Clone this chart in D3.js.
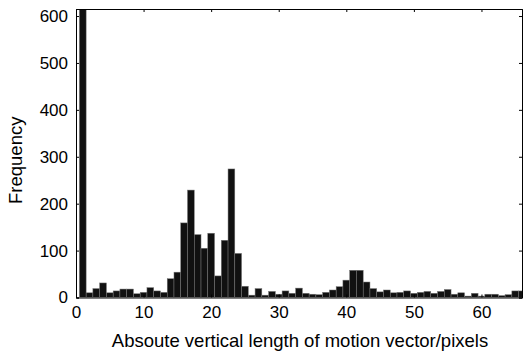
<!DOCTYPE html>
<html>
<head>
<meta charset="utf-8">
<script src="https://cdn.jsdelivr.net/npm/d3@7"></script>
<style>
  body { margin: 0; background: #fff; }
  text { font-family: "Liberation Sans", Arial, sans-serif; }
</style>
</head>
<body>
<svg id="chart" width="523" height="354"></svg>
<script>
// bin centers (pixels) and their counts
const bins = d3.range(0, 67);
const counts = [
  0, 1800, 10, 19, 31, 10, 14, 18, 18, 8,
  11, 21, 14, 11, 40, 54, 159, 229, 134, 105,
  137, 46, 122, 274, 94, 24, 5, 19, 5, 13,
  7, 14, 9, 20, 9, 7, 6, 11, 16, 23,
  37, 58, 58, 33, 19, 12, 16, 10, 11, 14,
  9, 11, 13, 9, 13, 17, 7, 10, 3, 9,
  3, 7, 7, 4, 6, 14, 14
];
const xTicks = [0, 10, 20, 30, 40, 50, 60];
const yTicks = [0, 100, 200, 300, 400, 500, 600];
const xLabel = "Absoute vertical length of motion vector/pixels";
const yLabel = "Frequency";

const margin = { top: 9, right: 1, bottom: 56.5, left: 76 };
const width = 523, height = 354;
const svg = d3.select("#chart");

const x = d3.scaleLinear().domain([0, 66]).range([margin.left, width - margin.right]);
const y = d3.scaleLinear().domain([0, 615]).range([height - margin.bottom, margin.top]);

svg.append("clipPath").attr("id", "plot")
  .append("rect")
  .attr("x", x(0)).attr("y", y(615))
  .attr("width", x(66) - x(0)).attr("height", y(0) - y(615));

svg.append("g")
  .attr("clip-path", "url(#plot)")
  .selectAll("rect")
  .data(bins)
  .join("rect")
  .attr("x", d => x(d - 0.5))
  .attr("width", x(1) - x(0))
  .attr("y", (d, i) => y(counts[i]))
  .attr("height", (d, i) => y(0) - y(counts[i]))
  .attr("fill", "#111")
  .attr("stroke", "#777")
  .attr("stroke-width", 0.5);

const tickLen = 3;
const fsTick = 17;
const fsLabel = 18.5;

// axes, matlab style: ticks inside on all four sides
const axBottom = svg.append("g").attr("transform", `translate(0,${y(0)})`)
  .call(d3.axisBottom(x).tickValues(xTicks).tickSize(-tickLen).tickPadding(8));
const axTop = svg.append("g").attr("transform", `translate(0,${y(615)})`)
  .call(d3.axisTop(x).tickValues(xTicks).tickSize(-tickLen).tickFormat(""));
const axLeft = svg.append("g").attr("transform", `translate(${x(0)},0)`)
  .call(d3.axisLeft(y).tickValues(yTicks).tickSize(-tickLen).tickPadding(8));
const axRight = svg.append("g").attr("transform", `translate(${x(66)},0)`)
  .call(d3.axisRight(y).tickValues(yTicks).tickSize(-tickLen).tickFormat(""));

[axBottom, axTop, axLeft, axRight].forEach(g => {
  g.select(".domain").attr("stroke", "#000").attr("stroke-width", 1);
  g.selectAll(".tick line").attr("stroke", "#000");
  g.selectAll("text").attr("font-size", fsTick).attr("fill", "#000")
    .style("font-family", "'Liberation Sans', Arial, sans-serif");
});

svg.append("text")
  .attr("x", (x(0) + x(66)) / 2 + 1)
  .attr("y", 346.5)
  .attr("text-anchor", "middle")
  .attr("font-size", fsLabel)
  .text(xLabel);

svg.append("text")
  .attr("transform", `translate(22,${(y(0) + y(615)) / 2 + 7}) rotate(-90)`)
  .attr("text-anchor", "middle")
  .attr("font-size", fsLabel)
  .text(yLabel);
</script>
</body>
</html>
